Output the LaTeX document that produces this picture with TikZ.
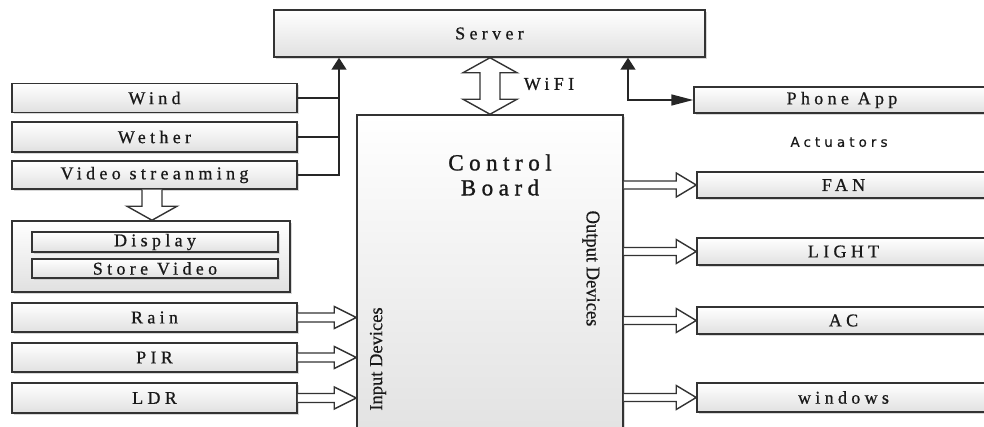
\documentclass[tikz,border=0pt]{standalone}
\usepackage{fontspec}
\setmainfont{Liberation Serif}
\newfontfamily\spc[LetterSpace=24,FakeBold=0.7]{Liberation Serif}
\newfontfamily\bigspc[LetterSpace=24,FakeBold=1.2]{Liberation Serif}
\newfontfamily\cond[FakeStretch=0.95,FakeBold=0.5]{Liberation Serif}
\newfontfamily\plain[FakeBold=0.5]{Liberation Serif}
\newfontfamily\sansspc[LetterSpace=30,FakeBold=0.5]{DejaVu Sans}
\usetikzlibrary{calc,shadows,arrows.meta}
\tikzset{
  x=1pt,y=-1pt,
  box/.style={draw=black!80, line width=1.5pt, top color=white, bottom color=black!12,
    inner sep=0pt, drop shadow={shadow xshift=2pt,shadow yshift=-2pt,fill=black!30,opacity=0.5},
    font=\spc\fontsize{18}{20}\selectfont, text=black!90},
  blk/.style={draw=black!80, line width=1.4pt, fill=white, line join=miter},
  wire/.style={draw=black!85, line width=1.5pt},
  lbl/.style={text=black!90, inner sep=0pt},
}
% horizontal hollow block arrow: from, to, shaft half, head half, head length
\newcommand\hblk[5]{%
  \draw[blk] ($(#1)+(0,-#3)$) -- ($(#2)+(-#5,-#3)$) -- ($(#2)+(-#5,-#4)$) -- (#2)
    -- ($(#2)+(-#5,#4)$) -- ($(#2)+(-#5,#3)$) -- ($(#1)+(0,#3)$);}
% vertical (downward) hollow block arrow
\newcommand\vblk[5]{%
  \draw[blk] ($(#1)+(-#3,0)$) -- ($(#2)+(-#3,-#5)$) -- ($(#2)+(-#4,-#5)$) -- (#2)
    -- ($(#2)+(#4,-#5)$) -- ($(#2)+(#3,-#5)$) -- ($(#1)+(#3,0)$);}
\begin{document}
\begin{tikzpicture}
\useasboundingbox (0,0) rectangle (984,427);

% boxes
\node[box, minimum width=431pt, minimum height=47pt] (server) at (489.5,33.5) {Server};
\node[box, minimum width=266pt, minimum height=340pt] (board) at (490,285) {};

\node[box, minimum width=285pt, minimum height=29pt] (wind) at (154.5,98) {Wind};
\node[box, minimum width=285pt, minimum height=30pt] (wether) at (154.5,137) {Wether};
\node[box, minimum width=285pt, minimum height=28pt] (video) at (154.5,175) {Video streanming};

\node[box, minimum width=278pt, minimum height=71pt] (dgroup) at (151,256.5) {};
\node[box, minimum width=246pt, minimum height=20pt] (display) at (155,242) {Display};
\node[box, minimum width=246pt, minimum height=19pt] (store) at (155,268.5) {Store Video};

\node[box, minimum width=285pt, minimum height=29pt] (rain) at (154.5,317.5) {Rain};
\node[box, minimum width=285pt, minimum height=29pt] (pir) at (154.5,357.5) {PIR};
\node[box, minimum width=285pt, minimum height=30pt] (ldr) at (154.5,398) {LDR};

\node[box, minimum width=296pt, minimum height=26pt] (phone) at (842,100) {Phone App};
\node[box, minimum width=293pt, minimum height=26pt] (fan) at (843.5,185) {FAN};
\node[box, minimum width=293pt, minimum height=27pt] (light) at (843.5,251.5) {LIGHT};
\node[box, minimum width=293pt, minimum height=27pt] (ac) at (843.5,320.5) {AC};
\node[box, minimum width=293pt, minimum height=29pt] (windows) at (843.5,397.5) {windows};

% labels
\node[lbl, font=\bigspc\fontsize{23}{25}\selectfont, align=center] (cb) at (500,175) {Control\\Board};
\node[lbl, rotate=-90, font=\cond\fontsize{19.5}{21}\selectfont] (od) at (591,268.5) {Output Devices};
\node[lbl, rotate=90, font=\plain\fontsize{18.5}{20}\selectfont] (id) at (378,359) {Input Devices};
\node[lbl, font=\sansspc\fontsize{13.5}{15}\selectfont] (act) at (839,142) {Actuators};
\node[lbl, font=\spc\fontsize{18}{20}\selectfont] (wifi) at (549,84) {WiFI};

% left bus to server
\coordinate (busx) at (339,0);
\draw[wire] (wind.east) -- (wind.east -| busx);
\draw[wire] (wether.east) -- (wether.east -| busx);
\draw[wire, -{Triangle[length=12pt,width=15pt]}] (video.east) -| (server.south -| busx);

% server <-> phone
\coordinate (pjx) at (628,0);
\draw[wire, {Triangle[length=12pt,width=15pt]}-{Triangle[length=22pt,width=11pt]}]
  (server.south -| pjx) |- (phone.west);

% WiFi double block arrow
\coordinate (wt) at (server.south -| board.north);
\coordinate (wb) at (board.north);
\draw[blk] (wt) -- ++(27,15) -- ++(-17,0) -- ($(wb)+(10,-15)$) -- ++(17,0) -- (wb)
  -- ++(-27,-15) -- ++(17,0) -- ($(wt)+(-10,15)$) -- ++(-17,0) -- cycle;

% video -> display group
\coordinate (vtop) at ($(video.south)+(-2.5,0)$);
\coordinate (vtip) at (vtop |- dgroup.north);
\vblk{vtop}{vtip}{10}{25}{14}

% inputs
\coordinate (i1) at (board.west |- rain.east);
\coordinate (i2) at (board.west |- pir.east);
\coordinate (i3) at (board.west |- ldr.east);
\hblk{rain.east}{i1}{4.5}{11}{22}
\hblk{pir.east}{i2}{4.5}{11}{22}
\hblk{ldr.east}{i3}{4.5}{11}{22}

% outputs
\coordinate (o1) at (board.east |- fan.west);
\coordinate (o2) at (board.east |- light.west);
\coordinate (o3) at (board.east |- ac.west);
\coordinate (o4) at (board.east |- windows.west);
\hblk{o1}{fan.west}{4}{12}{20}
\hblk{o2}{light.west}{4}{12}{20}
\hblk{o3}{ac.west}{4}{12}{20}
\hblk{o4}{windows.west}{4}{12}{20}
\end{tikzpicture}
\end{document}
